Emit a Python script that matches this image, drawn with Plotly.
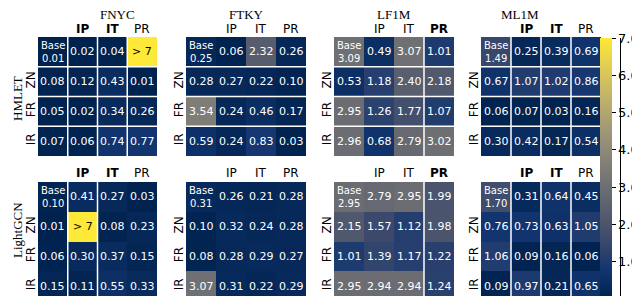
import plotly.graph_objects as go

# ---------------- data ----------------
models = ["HMLET", "LightGCN"]
datasets = ["FNYC", "FTKY", "LF1M", "ML1M"]
col_labels = ["", "IP", "IT", "PR"]
row_labels = ["", "ZN", "FR", "IR"]

# values (8.0 stands for "> 7")
hmlet_fnyc = [[0.01, 0.02, 0.04, 8.0], [0.08, 0.12, 0.43, 0.01], [0.05, 0.02, 0.34, 0.26], [0.07, 0.06, 0.74, 0.77]]
hmlet_ftky = [[0.25, 0.06, 2.32, 0.26], [0.28, 0.27, 0.22, 0.10], [3.54, 0.24, 0.46, 0.17], [0.59, 0.24, 0.83, 0.03]]
hmlet_lf1m = [[3.09, 0.49, 3.07, 1.01], [0.53, 1.18, 2.40, 2.18], [2.95, 1.26, 1.77, 1.07], [2.96, 0.68, 2.79, 3.02]]
hmlet_ml1m = [[1.49, 0.25, 0.39, 0.69], [0.67, 1.07, 1.02, 0.86], [0.06, 0.07, 0.03, 0.16], [0.30, 0.42, 0.17, 0.54]]
lgcn_fnyc = [[0.10, 0.41, 0.27, 0.03], [0.01, 8.0, 0.08, 0.23], [0.06, 0.30, 0.37, 0.15], [0.15, 0.11, 0.55, 0.33]]
lgcn_ftky = [[0.31, 0.26, 0.21, 0.28], [0.10, 0.32, 0.24, 0.28], [0.08, 0.28, 0.29, 0.27], [3.07, 0.31, 0.22, 0.29]]
lgcn_lf1m = [[2.95, 2.79, 2.95, 1.99], [2.15, 1.57, 1.12, 1.98], [1.01, 1.39, 1.17, 1.22], [2.95, 2.94, 2.94, 1.24]]
lgcn_ml1m = [[1.70, 0.31, 0.64, 0.45], [0.76, 0.73, 0.63, 1.05], [1.06, 0.09, 0.16, 0.06], [0.09, 0.97, 0.21, 0.65]]

panels = [
    [hmlet_fnyc, hmlet_ftky, hmlet_lf1m, hmlet_ml1m],
    [lgcn_fnyc, lgcn_ftky, lgcn_lf1m, lgcn_ml1m],
]
# bold column headers per panel
bold_cols = [
    [["IP", "IT"], [], ["PR"], ["IP", "IT"]],
    [["IP", "IT"], [], ["PR"], ["IP", "IT"]],
]
# white separator positions (styling)
vsep = [
    [[0.5, 1.5, 2.5], [], [2.5], [0.5, 1.5, 2.5]],
    [[0.5, 1.5], [], [2.5], [0.5, 1.5, 2.5]],
]
hsep = [
    [[0.5, 1.5, 2.5]] * 4,
    [[]] * 4,
]
ZMAX = 7.0

# ---------------- layout geometry ----------------
W, H = 640, 296
xdom_px = [(30, 149), (178, 298), (326, 446), (473, 593)]
ydom_px = [(29, 148), (174, 293)]
header_y_px = [21.5, 165]

fig = go.Figure()
annotations = []
shapes = []
layout = {}

for r in range(2):
    for c in range(4):
        k = r * 4 + c + 1
        xa = "x" if k == 1 else f"x{k}"
        ya = "y" if k == 1 else f"y{k}"
        xl = "xaxis" if k == 1 else f"xaxis{k}"
        yl = "yaxis" if k == 1 else f"yaxis{k}"
        vals = panels[r][c]
        zc = [[min(v, ZMAX) for v in row] for row in vals]
        fig.add_trace(go.Heatmap(
            z=zc, x=[0, 1, 2, 3], y=[0, 1, 2, 3],
            xaxis=xa, yaxis=ya,
            zmin=0, zmax=ZMAX, colorscale="Cividis",
            showscale=(k == 1),
            hoverinfo="skip",
            colorbar=dict(
                x=592 / W, xanchor="left", xpad=0, ypad=0,
                y=1 - 30 / H, yanchor="top",
                len=261 / H, lenmode="fraction", thickness=12,
                outlinewidth=0, ticks="outside", ticklen=4, tickwidth=1,
                tickcolor="black",
                tickvals=[0, 1, 2, 3, 4, 5, 6, 7],
                ticktext=["0.0", "1.0", "2.0", "3.0", "4.0", "5.0", "6.0", "7.0"],
                tickfont=dict(family="DejaVu Sans", size=13, color="black"),
            ),
        ))
        x0, x1 = xdom_px[c]
        y0, y1 = ydom_px[r]
        layout[xl] = dict(
            domain=[x0 / W, x1 / W], anchor=ya,
            range=[-0.5, 3.5], showticklabels=False,
            showgrid=False, zeroline=False, ticks="", showline=False,
        )
        layout[yl] = dict(
            domain=[1 - y1 / H, 1 - y0 / H], anchor=xa,
            range=[3.5, -0.5], tickvals=[0, 1, 2, 3], ticktext=row_labels,
            tickangle=-90, showgrid=False, zeroline=False, ticks="", showline=False,
            tickfont=dict(family="DejaVu Sans", size=12, color="black"),
        )
        # column headers
        for j, t in enumerate(col_labels):
            if not t:
                continue
            annotations.append(dict(
                x=j, y=1 - header_y_px[r] / H, xref=xa, yref="paper",
                text=f"<b>{t}</b>" if t in bold_cols[r][c] else t,
                showarrow=False, yanchor="middle",
                font=dict(family="DejaVu Sans", size=12, color="black"),
            ))
        # cell texts
        for i in range(4):
            for j in range(4):
                v = vals[i][j]
                if v > ZMAX:
                    txt, col, fs = "> 7", "black", 11
                else:
                    txt, col, fs = f"{v:.2f}", "white", 11
                if i == 0 and j == 0:
                    txt = f"Base<br>{v:.2f}"
                    fs = 10
                annotations.append(dict(
                    x=j, y=i, xref=xa, yref=ya, text=txt, showarrow=False,
                    font=dict(family="DejaVu Sans", size=fs, color=col),
                ))
        for p in vsep[r][c]:
            shapes.append(dict(type="line", xref=xa, yref=ya, x0=p, x1=p, y0=-0.5, y1=3.5,
                               line=dict(color="white", width=1.5)))
        for p in hsep[r][c]:
            shapes.append(dict(type="line", xref=xa, yref=ya, x0=-0.5, x1=3.5, y0=p, y1=p,
                               line=dict(color="white", width=1.5)))

# dataset titles
for c, name in enumerate(datasets):
    x0, x1 = xdom_px[c]
    annotations.append(dict(
        x=(x0 + x1) / 2 / W, y=1 - 6.5 / H, xref="paper", yref="paper",
        text=name, showarrow=False, yanchor="middle",
        font=dict(family="Liberation Serif", size=13, color="black"),
    ))
# model titles
for r, (name, yc) in enumerate(zip(models, [91, 222])):
    annotations.append(dict(
        x=9 / W, y=1 - yc / H, xref="paper", yref="paper",
        text=name, showarrow=False, textangle=-90, xanchor="center", yanchor="middle",
        font=dict(family="Liberation Serif", size=13, color="black"),
    ))
# colorbar axis line on the right side
shapes.append(dict(type="line", xref="paper", yref="paper",
                   x0=612.5 / W, x1=612.5 / W, y0=1 - 291 / H, y1=1 - 30 / H,
                   line=dict(color="black", width=1)))

fig.update_layout(
    width=W, height=H, margin=dict(l=0, r=0, t=0, b=0),
    paper_bgcolor="white", plot_bgcolor="white",
    annotations=annotations, shapes=shapes, **layout,
)
fig.write_html("out.html")
